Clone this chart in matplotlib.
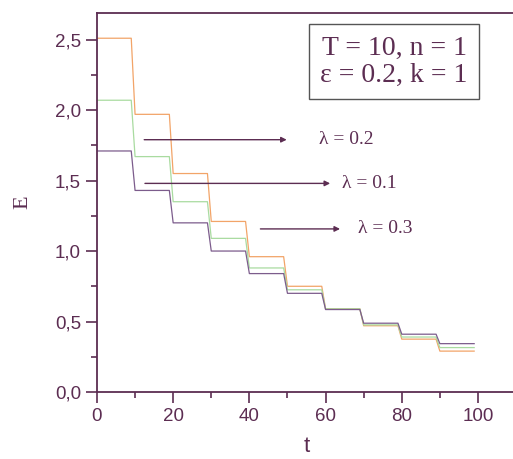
import matplotlib.pyplot as plt
import numpy as np

# energy per period (period length T = 10)
lam02 = [2.51, 1.97, 1.55, 1.21, 0.96, 0.75, 0.59, 0.47, 0.375, 0.29]
lam01 = [2.07, 1.67, 1.35, 1.09, 0.88, 0.725, 0.59, 0.476, 0.39, 0.315]
lam03 = [1.71, 1.43, 1.20, 1.00, 0.84, 0.70, 0.585, 0.488, 0.41, 0.343]
T = 10
t = np.arange(0, len(lam02) * T)

axc = '#5c2d52'
plt.rcParams['font.family'] = ['Liberation Sans', 'DejaVu Sans']

fig = plt.figure(figsize=(5.13, 4.59), dpi=100)
ax = fig.add_axes([0.189, 0.146, 0.817, 0.826])

ax.plot(t, np.repeat(lam02, T), color='#f2a468', lw=0.9)
ax.plot(t, np.repeat(lam01, T), color='#a9dba0', lw=0.9)
ax.plot(t, np.repeat(lam03, T), color='#7c5c8c', lw=0.9)

ax.set_xlim(0, 110)
ax.set_ylim(0, 2.69)
ax.set_xticks(np.arange(0, 101, 20))
ax.set_xticks(np.arange(10, 101, 20), minor=True)
ax.set_yticks(np.arange(0, 2.6, 0.5))
ax.set_yticks(np.arange(0.25, 2.6, 0.5), minor=True)
ax.set_yticklabels([('%.1f' % v).replace('.', ',') for v in np.arange(0, 2.6, 0.5)])

for s in ax.spines.values():
    s.set_color(axc)
    s.set_linewidth(1.3)
ax.tick_params(which='major', direction='out', length=8, width=1.2, color=axc,
               labelcolor=axc, labelsize=13.5)
ax.tick_params(which='minor', direction='out', length=4, width=1.2, color=axc)

ax.set_xlabel('t', fontsize=16, color=axc, labelpad=8)
ax.set_ylabel('E', fontsize=16, color=axc, family='Liberation Serif', labelpad=16)

# arrows and labels
arrows = [(12.4, 49.8, 1.79, 58.3, 'λ = 0.2'),
          (12.6, 61.2, 1.48, 64.2, 'λ = 0.1'),
          (42.9, 63.8, 1.157, 68.5, 'λ = 0.3')]
for x0, x1, y, xl, lab in arrows:
    ax.annotate('', xy=(x1, y), xytext=(x0, y),
                arrowprops=dict(arrowstyle='-|>', color=axc, lw=1.0,
                                mutation_scale=8, shrinkA=0, shrinkB=0))
    ax.text(xl, y, lab, fontsize=14, color=axc, va='center', ha='left',
            family='Liberation Serif')

ax.text(0.709, 0.871, 'T = 10, n = 1\nε = 0.2, k = 1', transform=ax.transAxes,
        fontsize=20, color=axc, family='Liberation Serif', ha='center', va='center',
        linespacing=1.13,
        bbox=dict(boxstyle='square,pad=0.4', fc='white', ec='#555555', lw=1.0))

fig.savefig('out.png', dpi=100)
